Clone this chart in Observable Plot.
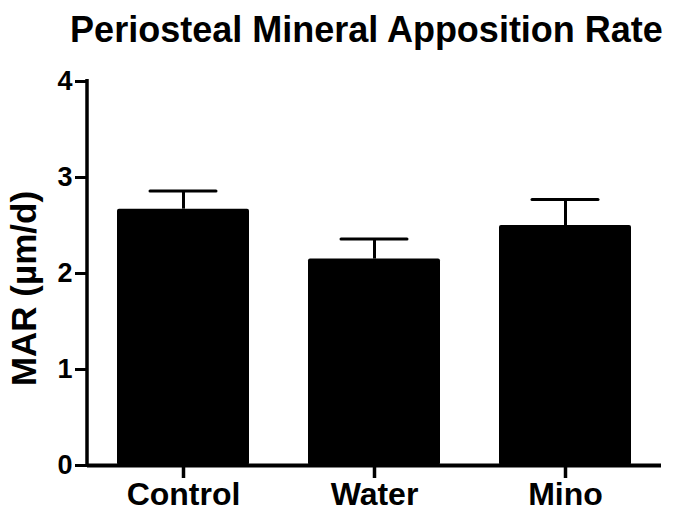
<!DOCTYPE html>
<html>
<head>
<meta charset="utf-8">
<script src="https://cdn.jsdelivr.net/npm/d3@7"></script>
<script src="https://cdn.jsdelivr.net/npm/@observablehq/plot@0.6"></script>
<style>
  html, body { margin: 0; padding: 0; background: #fff; }
  body { width: 683px; height: 513px; overflow: hidden; font-family: "Liberation Sans", Arial, sans-serif; }
  #title { box-sizing: border-box; height: 55px; padding-top: 12px; line-height: 36px; font-size: 36px; font-weight: bold; text-align: center; padding-left: 50px; color: #000; white-space: nowrap; }
</style>
</head>
<body>
<div id="title">Periosteal Mineral Apposition Rate</div>
<div id="chart"></div>
<script>
const categories = ["Control", "Water", "Mino"];
const means = [2.67, 2.15, 2.50];
const sems = [0.19, 0.21, 0.27];
const yTicks = [0, 1, 2, 3, 4];
const yLabel = "MAR (µm/d)";

const data = categories.map((c, i) => ({group: c, mean: means[i], upper: means[i] + sems[i]}));

const yAxisLine = (index, scales, values, dimensions) => {
  const x = dimensions.marginLeft;
  return d3.create("svg:line")
    .attr("x1", x).attr("x2", x)
    .attr("y1", scales.y(4) - 2).attr("y2", scales.y(0) + 2)
    .attr("stroke", "#000").attr("stroke-width", 3.5)
    .node();
};

const chart = Plot.plot({
  width: 683,
  height: 458,
  marginLeft: 87,
  marginRight: 22,
  marginTop: 26,
  marginBottom: 48,
  style: {fontFamily: "'Liberation Sans', Arial, sans-serif", fontWeight: "bold", color: "#000", background: "#fff"},
  x: {domain: categories, paddingInner: 0.31, paddingOuter: 0.15, label: null},
  y: {domain: [0, 4], label: null},
  marks: [
    Plot.barY(data, {x: "group", y: "mean", fill: "#000", rx: 2}),
    Plot.ruleX(data, {x: "group", y1: "mean", y2: "upper", stroke: "#000", strokeWidth: 3}),
    Plot.tickY(data, {x: "group", y: "upper", stroke: "#000", strokeWidth: 3, strokeLinecap: "round", inset: 33}),
    Plot.ruleY([0], {stroke: "#000", strokeWidth: 4}),
    yAxisLine,
    Plot.axisY({ticks: yTicks, tickFormat: d3.format("d"), tickSize: 12, tickPadding: 3, strokeWidth: 3, fontSize: 27, fontWeight: "bold", label: null}),
    Plot.axisX({tickSize: 13, tickPadding: 4, strokeWidth: 3.5, fontSize: 32, fontWeight: "bold", label: null}),
    Plot.text([yLabel], {frameAnchor: "left", textAnchor: "middle", rotate: -90, dx: -63, dy: 15, fontSize: 35, fontWeight: "bold", fill: "#000"})
  ]
});
document.getElementById("chart").appendChild(chart);
</script>
</body>
</html>
